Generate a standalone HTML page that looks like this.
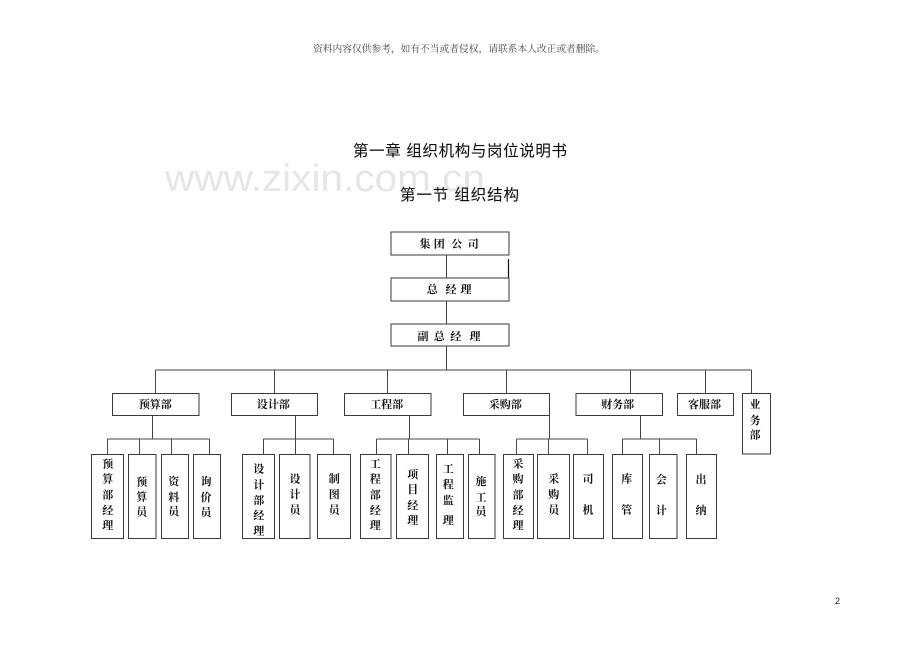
<!DOCTYPE html>
<html><head><meta charset="utf-8"><style>
html,body{margin:0;padding:0;background:#fff;width:920px;height:651px;overflow:hidden}
svg{display:block}
.b{fill:#fff;stroke:#3a3a3a;stroke-width:1}
.l{stroke:#444;stroke-width:1;fill:none}
.t{font-family:"Liberation Serif","Noto Serif CJK SC",serif;font-size:11px;font-weight:700;fill:#111}
.d{font-family:"Liberation Serif","Noto Serif CJK SC",serif;font-size:11px;font-weight:700;fill:#111;text-anchor:middle}
.h{font-family:"Liberation Sans","WenQuanYi Zen Hei","Noto Sans CJK SC",sans-serif;fill:#111;stroke:#111;stroke-width:.08}
</style></head><body>
<svg width="920" height="651" viewBox="0 0 920 651" xmlns="http://www.w3.org/2000/svg">
<text x="165" y="191" font-family="Liberation Sans" font-size="38" fill="#e6e6e6" textLength="320" lengthAdjust="spacingAndGlyphs">www.zixin.com.cn</text>
<text x="313" y="52" font-family="'Liberation Serif','Noto Serif CJK SC',serif" font-size="9.75" fill="#444" textLength="292">资料内容仅供参考，如有不当或者侵权，请联系本人改正或者删除。</text>
<text class="h" x="353" y="156" font-size="15.5" textLength="214">第一章 组织机构与岗位说明书</text>
<text class="h" x="400" y="200" font-size="15.5" textLength="119">第一节 组织结构</text>
<text x="835" y="604" font-family="Liberation Sans" font-size="9" fill="#222">2</text>

<g class="l">
<path d="M446.5 255V278M446.5 301V324M446.5 346V370M155.5 370H751.5"/>
<path d="M508.5 259V278" stroke-width="1.2" stroke="#111"/>
<path d="M155.5 370V393M274.5 370V393M387.5 370V393M506.5 370V393M630.5 370V393M705.5 370V393M751.5 370V393"/>
<path d="M152.5 416V439M107.5 439H209.5M107.5 439V454M139.5 439V454M171.5 439V454M209.5 439V454"/>
<path d="M295.5 416V439M263.5 439H333.5M263.5 439V454M295.5 439V454M333.5 439V454"/>
<path d="M409.5 416V439M376.5 439H479.5M376.5 439V454M408.5 439V454M447.5 439V454M479.5 439V454"/>
<path d="M549.5 393V439M516.5 439H587.5M516.5 439V454M548.5 439V454M587.5 439V454"/>
<path d="M640.5 416V439M622.5 439H696.5M622.5 439V454M659.5 439V454M696.5 439V454"/>
</g>

<rect class="b" x="391" y="232" width="118" height="23"/>
<rect class="b" x="391" y="278" width="118" height="23"/>
<rect class="b" x="391" y="324" width="118" height="22"/>
<rect class="b" x="112.5" y="393.5" width="86.5" height="22"/>
<rect class="b" x="231.5" y="393.5" width="86" height="22"/>
<rect class="b" x="344.5" y="393.5" width="86.5" height="22"/>
<rect class="b" x="463.5" y="393.5" width="86" height="22"/>
<rect class="b" x="576" y="393.5" width="86.5" height="22"/>
<rect class="b" x="677.5" y="393.5" width="56" height="22"/>
<rect class="b" x="742.5" y="393.5" width="28" height="60.5"/>

<rect class="b" x="91.5" y="454.5" width="32" height="84"/>
<rect class="b" x="128.5" y="454.5" width="27.5" height="84"/>
<rect class="b" x="161.5" y="454.5" width="27" height="84"/>
<rect class="b" x="193.5" y="454.5" width="27" height="84"/>
<rect class="b" x="242.5" y="454.5" width="32" height="84"/>
<rect class="b" x="279.5" y="454.5" width="30.5" height="84"/>
<rect class="b" x="317.5" y="454.5" width="33" height="84"/>
<rect class="b" x="360.5" y="454.5" width="30.5" height="84"/>
<rect class="b" x="396.5" y="454.5" width="32" height="84"/>
<rect class="b" x="436.5" y="454.5" width="27" height="84"/>
<rect class="b" x="468.5" y="454.5" width="26.5" height="84"/>
<rect class="b" x="503.5" y="454.5" width="30" height="84"/>
<rect class="b" x="537.5" y="454.5" width="32" height="84"/>
<rect class="b" x="573.5" y="454.5" width="30" height="84"/>
<rect class="b" x="612.5" y="454.5" width="30" height="84"/>
<rect class="b" x="649.5" y="454.5" width="27.5" height="84"/>
<rect class="b" x="686.5" y="454.5" width="30" height="84"/>

<g class="t">
<text x="419.5 433.8 451.2 467.8" y="247.3">集团公司</text>
<text x="426.8 445.5 460.5" y="293">总经理</text>
<text x="417.5 433.8 450.2 469.5" y="340">副总经理</text>
<text x="102.2 102.2 102.2 102.2 102.2" y="467.3 482.3 498.3 514 529">预算部经理</text>
<text x="136.2 136.2 136.2" y="485.7 500.7 515.7">预算员</text>
<text x="168.2 168.2 168.2" y="485 501 515">资料员</text>
<text x="200.5 200.5 200.5" y="485 501 516">询价员</text>
<text x="253.2 253.2 253.2 253.2 253.2" y="472.3 488.3 504 519 534.7">设计部经理</text>
<text x="289.5 289.5 289.5" y="482.3 498 513.3">设计员</text>
<text x="328.8 328.8 328.8" y="482.3 498 513.3">制图员</text>
<text x="369.8 369.8 369.8 369.8 369.8" y="467.3 482.3 498.3 514 529">工程部经理</text>
<text x="407.2 407.2 407.2 407.2" y="478 493 509 524">项目经理</text>
<text x="442.8 442.8 442.8 442.8" y="472.3 488 504 524">工程监理</text>
<text x="475.5 475.5 475.5" y="485 501 515">施工员</text>
<text x="512.5 512.5 512.5 512.5 512.5" y="467.3 482.3 498.3 514 529">采购部经理</text>
<text x="548.2 548.2 548.2" y="482.3 498 513.3">采购员</text>
<text x="582.5 582.5" y="482.3 513.3">司机</text>
<text x="621.2 621.2" y="482.3 513.3">库管</text>
<text x="655.8 655.8" y="483 514">会计</text>
<text x="695.5 695.5" y="483 514">出纳</text>
<text x="749.5 749.5 749.5" y="408 424 438.3">业务部</text>
</g>
<g class="d">
<text x="155.3" y="408">预算部</text>
<text x="273.3" y="408">设计部</text>
<text x="386.7" y="408">工程部</text>
<text x="505.3" y="408">采购部</text>
<text x="617.7" y="408">财务部</text>
<text x="704.5" y="408">客服部</text>
</g>
</svg>
</body></html>
